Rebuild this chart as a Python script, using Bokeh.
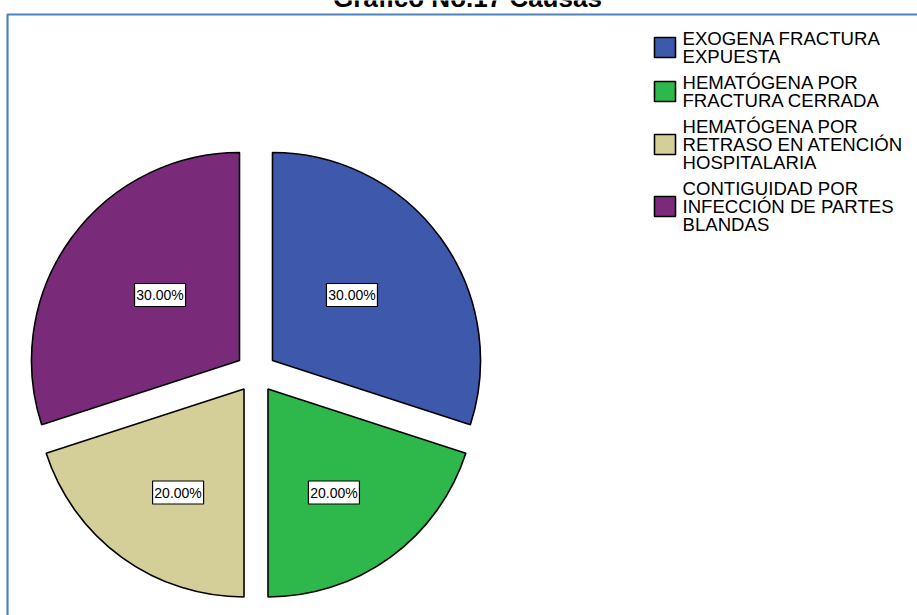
import numpy as np
from bokeh.plotting import figure
from bokeh.models import Range1d, ColumnDataSource
from bokeh.core.properties import value
from bokeh.embed import file_html
from bokeh.resources import INLINE

# ---- data ----
categories = [
    "EXOGENA FRACTURA EXPUESTA",
    "HEMATÓGENA POR FRACTURA CERRADA",
    "HEMATÓGENA POR RETRASO EN ATENCIÓN HOSPITALARIA",
    "CONTIGUIDAD POR INFECCIÓN DE PARTES BLANDAS",
]
legend_lines = [
    ["EXOGENA FRACTURA", "EXPUESTA"],
    ["HEMATÓGENA POR", "FRACTURA CERRADA"],
    ["HEMATÓGENA POR", "RETRASO EN ATENCIÓN", "HOSPITALARIA"],
    ["CONTIGUIDAD POR", "INFECCIÓN DE PARTES", "BLANDAS"],
]
percentages = [30.0, 20.0, 20.0, 30.0]
colors = ["#3E58AC", "#2EB74B", "#D4CF99", "#792B79"]
title = "Gráfico No.17 Causas"

# ---- canvas in pixel units (y measured upward) ----
W, H = 917, 615
def Y(py):
    return H - py

p = figure(width=W, height=H, x_range=Range1d(0, W), y_range=Range1d(0, H),
           output_backend="svg", toolbar_location=None, min_border=0)
p.axis.visible = False
p.grid.visible = False
p.outline_line_color = None
p.background_fill_color = "white"
p.border_fill_color = "white"

# chart frame (runs off the right and bottom edges)
frame_col = "#4F81BD"
p.line([7, 7, W + 20], [Y(H + 20), Y(14), Y(14)], line_color=frame_col, line_width=2.2)

# title, sitting above the frame
p.text(x=[467], y=[Y(-2.5)], text=[title], text_font=value("Liberation Sans"),
       text_font_style="bold", text_font_size="26px", text_align="center",
       text_baseline="middle", text_color="black")

# ---- exploded pie ----
cx, cy, R, explode = 255.5, Y(372), 208.0, 20.4
fr = np.array(percentages) / sum(percentages)
span = fr * 2 * np.pi
start = np.pi / 2 - np.concatenate([[0], np.cumsum(span)[:-1]])
end = start - span
mid = (start + end) / 2
ax = cx + explode * np.cos(mid)
ay = cy + explode * np.sin(mid)

src = ColumnDataSource(dict(x=ax, y=ay, s=start, e=end, c=colors))
p.wedge(x="x", y="y", radius=R, start_angle="s", end_angle="e", direction="clock",
        fill_color="c", line_color="black", line_width=1.6, source=src)

# value labels, nudged toward the vertical
big = fr >= 0.25
ldist = np.where(big, 0.495, 0.59) * R
nudge = np.deg2rad(3.5)
lang = np.where(np.sin(mid) >= 0,
                mid + np.sign(np.cos(mid)) * nudge,
                mid - np.sign(np.cos(mid)) * nudge)
lx = ax + ldist * np.cos(lang)
ly = ay + ldist * np.sin(lang)
labels = [f"{v:.2f}%" for v in percentages]
p.rect(x=lx, y=ly, width=51, height=23, width_units="screen", height_units="screen",
       fill_color="white", line_color="black", line_width=1.2)
p.text(x=lx, y=ly, text=labels, text_font=value("Liberation Sans"),
       text_font_size="14px", text_align="center", text_baseline="middle",
       text_color="black")

# ---- legend ----
pitch = 18.0                      # line spacing inside an entry
gap = 8.0                         # extra space between entries
line_font = "18.6px"
centers = []
t = 38.0                          # centre of the first text line
for lines in legend_lines:
    centers.append(t)
    t += len(lines) * pitch + gap
for lines, c0, col in zip(legend_lines, centers, colors):
    n = len(lines)
    block_mid = c0 + (n - 1) * pitch / 2
    p.rect(x=[664.5], y=[Y(block_mid)], width=21, height=20, width_units="screen",
           height_units="screen", fill_color=col, line_color="black", line_width=1.6)
    ys = [Y(c0 + i * pitch) for i in range(n)]
    p.text(x=[682] * n, y=ys, text=lines, text_font=value("Liberation Sans"),
           text_font_size=line_font, text_align="left", text_baseline="middle",
           text_color="black")

open("out.html", "w").write(file_html(p, INLINE))
